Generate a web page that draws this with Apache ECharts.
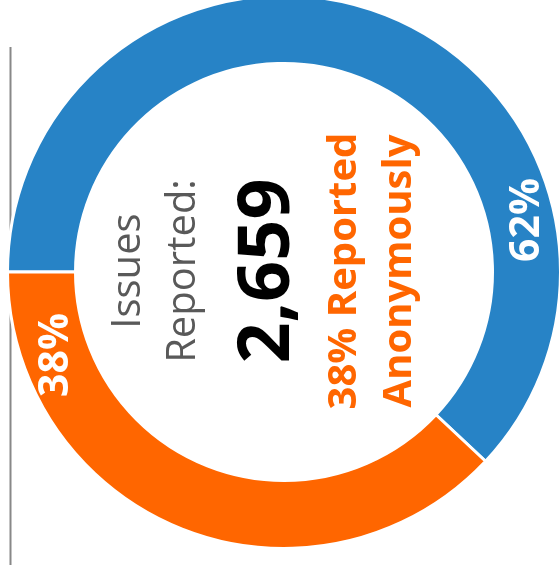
<!DOCTYPE html>
<html>
<head>
<meta charset="utf-8">
<script src="https://cdn.jsdelivr.net/npm/echarts@6/dist/echarts.min.js"></script>
<style>
  html, body { margin: 0; padding: 0; background: #fff; }
  #chart { width: 560px; height: 565px; }
</style>
</head>
<body>
<div id="chart"></div>
<script>
// data
const categories = ['Reported Named', 'Reported Anonymously'];
const shares = [62, 38];
const colors = ['#2783C6', '#FF6600'];
const totalIssues = 2659;
const anonymousShare = 38;

// where the (rotated) percent labels sit
const labelSpots = [[527, 220], [56, 355]];

const cx = 284, cy = 272;
const font = '"Open Sans", "Noto Sans", sans-serif';

const centerLines = [
  { text: 'Issues', x: 129, size: 40, weight: 'normal', color: '#595959' },
  { text: 'Reported:', x: 184, size: 40, weight: 'normal', color: '#595959' },
  { text: totalIssues.toLocaleString('en-US'), x: 268, size: 72, weight: 'bold', color: '#000' },
  { text: anonymousShare + '% Reported', x: 345, size: 40, weight: 'bold', color: '#FF6600' },
  { text: 'Anonymously', x: 400, size: 40, weight: 'bold', color: '#FF6600' }
];

const chart = echarts.init(document.getElementById('chart'));

const option = {
  animation: false,
  graphic: [
    {
      type: 'line',
      shape: { x1: 10.5, y1: 47, x2: 10.5, y2: 565 },
      style: { stroke: '#888', lineWidth: 2 },
      z: 0
    }
  ].concat(centerLines.map(l => ({
    type: 'text',
    x: l.x,
    y: cy - 1,
    rotation: Math.PI / 2,
    z: 10,
    style: {
      text: l.text,
      fill: l.color,
      font: l.weight + ' ' + l.size + 'px ' + font,
      align: 'center',
      verticalAlign: 'middle'
    }
  }))),
  series: [
    {
      type: 'pie',
      center: [cx, cy],
      radius: [208.5, 276.5],
      startAngle: 180,
      clockwise: true,
      z: 2,
      itemStyle: { borderColor: '#fff', borderWidth: 3 },
      emphasis: { disabled: true },
      label: {
        show: true,
        position: 'inside',
        rotate: 90,
        color: '#fff',
        fontFamily: font,
        fontWeight: 'bold',
        fontSize: 41,
        formatter: p => Math.round(p.percent) + '%'
      },
      labelLine: { show: false },
      labelLayout: p => ({
        x: labelSpots[p.dataIndex][0],
        y: labelSpots[p.dataIndex][1],
        align: 'center',
        verticalAlign: 'middle'
      }),
      data: categories.map((name, i) => ({
        name: name,
        value: shares[i],
        itemStyle: { color: colors[i] }
      }))
    }
  ]
};

chart.setOption(option);
</script>
</body>
</html>
